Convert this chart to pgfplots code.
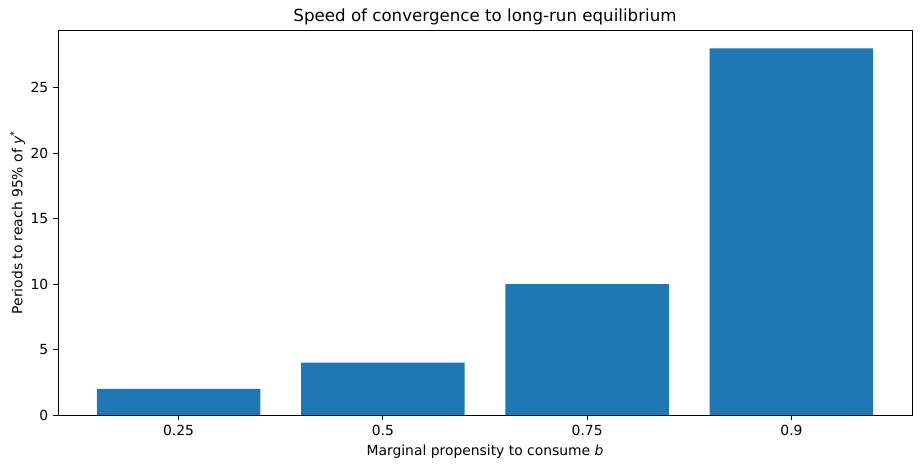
\documentclass[border=0pt]{standalone}
\usepackage{pgfplots}
\pgfplotsset{compat=1.18}
\usepackage{fontspec}
\setmainfont{DejaVu Sans}
\definecolor{mplblue}{HTML}{1F77B4}
\begin{document}
\fontsize{10pt}{12pt}\selectfont
\begin{tikzpicture}
\begin{axis}[
  scale only axis,
  width=614.9pt, height=277.2pt,
  xmin=-0.59, xmax=3.59,
  ymin=0, ymax=29.4,
  xtick={0,1,2,3},
  xticklabels={0.25,0.5,0.75,0.9},
  ytick={0,5,10,15,20,25},
  tick align=outside,
  tick pos=left,
  major tick length=3.5pt,
  tick style={black, line width=0.6pt},
  axis line style={line width=0.6pt},
  /pgf/number format/assume math mode=true,
  tick label style={font=\fontsize{10pt}{12pt}\selectfont},
  label style={font=\fontsize{10pt}{12pt}\selectfont},
  title style={font=\fontsize{12pt}{14pt}\selectfont, yshift=-6pt},
  title={Speed of convergence to long-run equilibrium},
  xlabel={Marginal propensity to consume \textit{b}},
  ylabel={Periods to reach 95\% of \textit{y}\textsuperscript{*}},
  xlabel style={yshift=0pt},
  ylabel style={yshift=-3pt},
  ybar, bar width=0.8, bar shift=0pt,
]
\addplot[fill=mplblue, draw=none] coordinates {(0,2) (1,4) (2,10) (3,28)};
\end{axis}
\pgfresetboundingbox
\path ([xshift=-41.76pt, yshift=-38.88pt]current axis.south west) rectangle ([xshift=7.2pt, yshift=21.6pt]current axis.north east);
\end{tikzpicture}
\end{document}
